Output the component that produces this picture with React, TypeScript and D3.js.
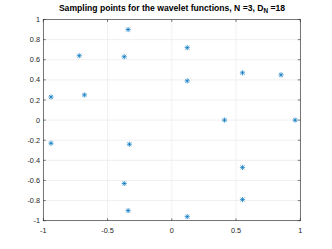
import React from "react";
import * as d3 from "d3";

const xs = [-0.94, -0.72, -0.68, -0.34, 0.12, -0.37, 0.12, 0.41, 0.55, 0.85, 0.96, -0.94, -0.33, -0.37, -0.34, 0.12, 0.55, 0.55];
const ys = [0.23, 0.64, 0.25, 0.90, 0.72, 0.63, 0.39, 0.0, 0.47, 0.45, 0.0, -0.23, -0.24, -0.63, -0.90, -0.96, -0.47, -0.79];
const xTicks = [-1, -0.5, 0, 0.5, 1];
const yTicks = [-1, -0.8, -0.6, -0.4, -0.2, 0, 0.2, 0.4, 0.6, 0.8, 1];

export default function App() {
  const W = 332, H = 249;
  const L = 43.3, R = 300.3, T = 19.5, B = 220.7;
  const x = d3.scaleLinear().domain([-1, 1]).range([L, R]);
  const y = d3.scaleLinear().domain([-1, 1]).range([B, T]);
  const ax = "#262626";
  const grid = "#e6e6e6";
  const blue = "#0072BD";
  const font = "'Liberation Sans', Arial, Helvetica, sans-serif";
  const tk = 2.5;
  const m = 2.6;
  return (
    <svg width={W} height={H} style={{ position: "absolute", left: 0, top: 0, background: "#fff" }}>
      <rect x={0} y={0} width={W} height={H} fill="#fff" />
      {xTicks.map((t, i) => (
        <line key={"gx" + i} x1={x(t)} x2={x(t)} y1={T} y2={B} stroke={grid} strokeWidth={0.6} />
      ))}
      {yTicks.map((t, i) => (
        <line key={"gy" + i} x1={L} x2={R} y1={y(t)} y2={y(t)} stroke={grid} strokeWidth={0.6} />
      ))}
      <rect x={L} y={T} width={R - L} height={B - T} fill="none" stroke={ax} strokeWidth={0.6} />
      {xTicks.map((t, i) => (
        <g key={"tx" + i}>
          <line x1={x(t)} x2={x(t)} y1={B} y2={B - tk} stroke={ax} strokeWidth={0.6} />
          <line x1={x(t)} x2={x(t)} y1={T} y2={T + tk} stroke={ax} strokeWidth={0.6} />
          <text x={x(t)} y={233} textAnchor="middle" fontSize={7.3} fill={ax} fontFamily={font}>
            {String(t)}
          </text>
        </g>
      ))}
      {yTicks.map((t, i) => (
        <g key={"ty" + i}>
          <line x1={L} x2={L + tk} y1={y(t)} y2={y(t)} stroke={ax} strokeWidth={0.6} />
          <line x1={R} x2={R - tk} y1={y(t)} y2={y(t)} stroke={ax} strokeWidth={0.6} />
          <text x={40} y={y(t) + 2.6} textAnchor="end" fontSize={7.3} fill={ax} fontFamily={font}>
            {String(Number(t.toFixed(1)))}
          </text>
        </g>
      ))}
      {xs.map((v, i) => {
        const cx = x(v), cy = y(ys[i]);
        const d = m * 0.75;
        return (
          <g key={"p" + i} stroke={blue} strokeWidth={0.7}>
            <line x1={cx - m} x2={cx + m} y1={cy} y2={cy} />
            <line x1={cx} x2={cx} y1={cy - m} y2={cy + m} />
            <line x1={cx - d} x2={cx + d} y1={cy - d} y2={cy + d} />
            <line x1={cx - d} x2={cx + d} y1={cy + d} y2={cy - d} />
          </g>
        );
      })}
      <text x={172} y={11} textAnchor="middle" fontSize={8.6} fontWeight="bold" fill="#000" fontFamily={font}>
        Sampling points for the wavelet functions, N =3, D
        <tspan fontSize={6.4} dy={2}>N</tspan>
        <tspan dy={-2}> =18</tspan>
      </text>
    </svg>
  );
}
